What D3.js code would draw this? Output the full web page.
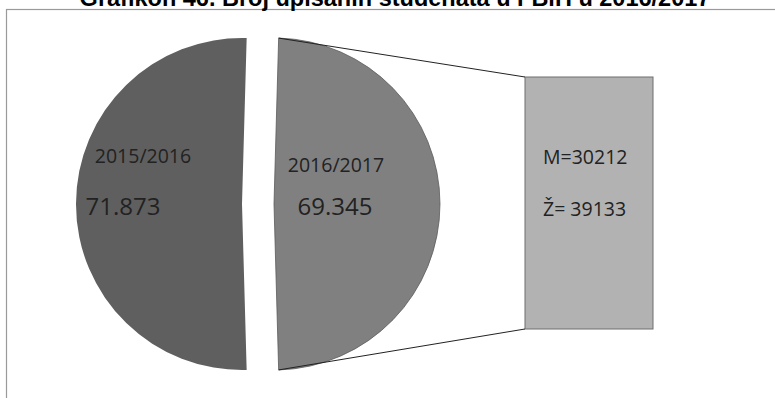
<!DOCTYPE html>
<html>
<head>
<meta charset="utf-8">
<script src="https://cdn.jsdelivr.net/npm/d3@7/dist/d3.min.js"></script>
<style>
  html, body { margin: 0; padding: 0; background: #fff; }
  svg { display: block; }
</style>
</head>
<body>
<svg id="chart" width="775" height="398"></svg>
<script>
// ---- data ----
const title = "Grafikon 46. Broj upisanih studenata u FBiH u 2016/2017";
const years = ["2016/2017", "2015/2016"];
const yearTotals = [69345, 71873];
const barCategories = ["M", "Ž"];
const barValues = [30212, 39133];
const barLabels = ["M=30212", "Ž= 39133"];

const colors = { right: "#808080", left: "#5f5f5f", bar: "#b2b2b2" };

const svg = d3.select("#chart");

// frame
svg.append("rect")
  .attr("x", 6.5).attr("y", 9.5)
  .attr("width", 900).attr("height", 600)
  .attr("fill", "none").attr("stroke", "#9a9a9a").attr("stroke-width", 1.2);

// title (cropped at the top edge as in the reference)
svg.append("text")
  .attr("x", 395).attr("y", 6)
  .attr("text-anchor", "middle")
  .attr("font-family", "Liberation Sans, Arial, sans-serif")
  .attr("font-weight", "bold")
  .attr("font-size", 23.5)
  .attr("fill", "#000")
  .text(title);

// pie
const cx = 258, cy = 204, R = 166, explode = 16;
const total = d3.sum(yearTotals);
const theta = 2 * Math.PI * yearTotals[0] / total;
const pie = d3.pie().sort(null).value(d => d)
  .startAngle(Math.PI / 2 - theta / 2)
  .endAngle(Math.PI / 2 - theta / 2 + 2 * Math.PI);
const arcs = pie(yearTotals);
const arcGen = d3.arc().innerRadius(0).outerRadius(R);
const fmt = d3.formatLocale({ decimal: ",", thousands: ".", grouping: [3], currency: ["", ""] }).format(",d");

const offsets = arcs.map(a => {
  const m = (a.startAngle + a.endAngle) / 2;
  return [cx + explode * Math.sin(m), cy - explode * Math.cos(m)];
});

const g = svg.append("g");
arcs.forEach((a, i) => {
  g.append("path")
    .attr("transform", `translate(${offsets[i][0]},${offsets[i][1]})`)
    .attr("d", arcGen(a))
    .attr("fill", i === 0 ? colors.right : colors.left)
    .attr("stroke", i === 0 ? "#5a5a5a" : "none")
    .attr("stroke-width", 0.8);
});

// bar of pie
const barX0 = 525, barX1 = 653;
const y = d3.scaleLinear().domain([0, d3.sum(barValues)]).range([329, 77]);
const stack = [];
let acc = 0;
barValues.forEach((v, i) => { stack.push([acc, acc + v]); acc += v; });
stack.forEach((s, i) => {
  svg.append("rect")
    .attr("x", barX0).attr("y", Math.round(y(s[1])))
    .attr("width", barX1 - barX0).attr("height", Math.round(y(s[0])) - Math.round(y(s[1])))
    .attr("shape-rendering", "crispEdges")
    .attr("fill", colors.bar);
});
svg.append("rect")
  .attr("x", barX0).attr("y", y(acc))
  .attr("width", barX1 - barX0).attr("height", y(0) - y(acc))
  .attr("fill", "none").attr("stroke", "#6e6e6e").attr("stroke-width", 1);

// connector lines
const ra = arcs[0];
const o = offsets[0];
const pTop = [o[0] + R * Math.sin(ra.startAngle), o[1] - R * Math.cos(ra.startAngle)];
const pBot = [o[0] + R * Math.sin(ra.endAngle), o[1] - R * Math.cos(ra.endAngle)];
svg.append("line").attr("x1", pTop[0]).attr("y1", pTop[1]).attr("x2", barX0).attr("y2", y(acc))
  .attr("stroke", "#222").attr("stroke-width", 1);
svg.append("line").attr("x1", pBot[0]).attr("y1", pBot[1]).attr("x2", barX0).attr("y2", y(0))
  .attr("stroke", "#222").attr("stroke-width", 1);

// labels
const lf = "Open Sans, Noto Sans, sans-serif";
const txtColor = "#222";
// right slice (2016/2017)
svg.append("text").attr("x", offsets[0][0] + 62).attr("y", 172)
  .attr("text-anchor", "middle").attr("font-family", lf).attr("font-size", 19.5)
  .attr("fill", txtColor).text(years[0]);
svg.append("text").attr("x", offsets[0][0] + 61).attr("y", 215)
  .attr("text-anchor", "middle").attr("font-family", lf).attr("font-size", 24)
  .attr("fill", txtColor).text(fmt(yearTotals[0]));
// left slice (2015/2016)
svg.append("text").attr("x", offsets[1][0] - 99).attr("y", 163)
  .attr("text-anchor", "middle").attr("font-family", lf).attr("font-size", 19.5)
  .attr("fill", txtColor).text(years[1]);
svg.append("text").attr("x", offsets[1][0] - 119).attr("y", 215)
  .attr("text-anchor", "middle").attr("font-family", lf).attr("font-size", 24)
  .attr("fill", txtColor).text(fmt(yearTotals[1]));

// bar labels
svg.append("text").attr("x", barX0 + 18).attr("y", 164)
  .attr("font-family", lf).attr("font-size", 19.5).attr("fill", txtColor).text(barLabels[0]);
svg.append("text").attr("x", barX0 + 18).attr("y", 216)
  .attr("font-family", lf).attr("font-size", 19.5).attr("fill", txtColor).text(barLabels[1]);
</script>
</body>
</html>
